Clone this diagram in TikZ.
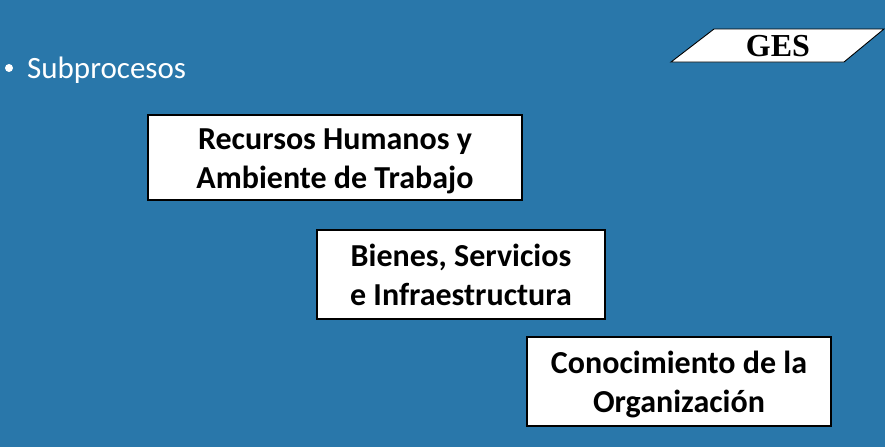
\documentclass[tikz,border=0pt]{standalone}
\usepackage{fontspec}
\setmainfont{Carlito}
\newfontfamily\gesfont{Liberation Serif}
\usetikzlibrary{positioning}
\definecolor{gesbg}{HTML}{2977AA}
\tikzset{
  bx/.style={draw=black, line width=2pt, fill=white, align=center, font=\fontsize{32}{39}\selectfont\bfseries, inner sep=0pt, text height=61pt, text depth=0pt},
  lbl/.style={text=white, font=\fontsize{31}{36}\selectfont, anchor=base west, inner sep=0pt},
}
\begin{document}
\begin{tikzpicture}[x=1pt, y=-1pt]
    \fill[gesbg] (0,0) rectangle (885,447);
    \useasboundingbox (0,0) rectangle (885,447);
    % top left bullet
    \node[lbl] (sub) at (27,78.5) {Subprocesos};
    \fill[white] (9,68) circle (4);
    % GES tab
    \draw[fill=white, line width=0.9pt] (714,29) -- (884,29) -- (844,62) -- (671,62) -- cycle;
    \node[font=\gesfont\fontsize{32}{36}\selectfont\bfseries, inner sep=0pt, anchor=base] (ges) at (778,56.5) {GES};
    % the three subprocess boxes
    \node[bx, minimum width=374pt, minimum height=85pt] (rh) at (335,157.5) {Recursos Humanos y\\Ambiente de Trabajo};
    \node[bx, minimum width=288pt, minimum height=89pt] (bs) at (461,274.5) {Bienes, Servicios\\e Infraestructura};
    \node[bx, minimum width=304pt, minimum height=89pt] (co) at (679,381.5) {Conocimiento de la\\Organización};
\end{tikzpicture}
\end{document}
